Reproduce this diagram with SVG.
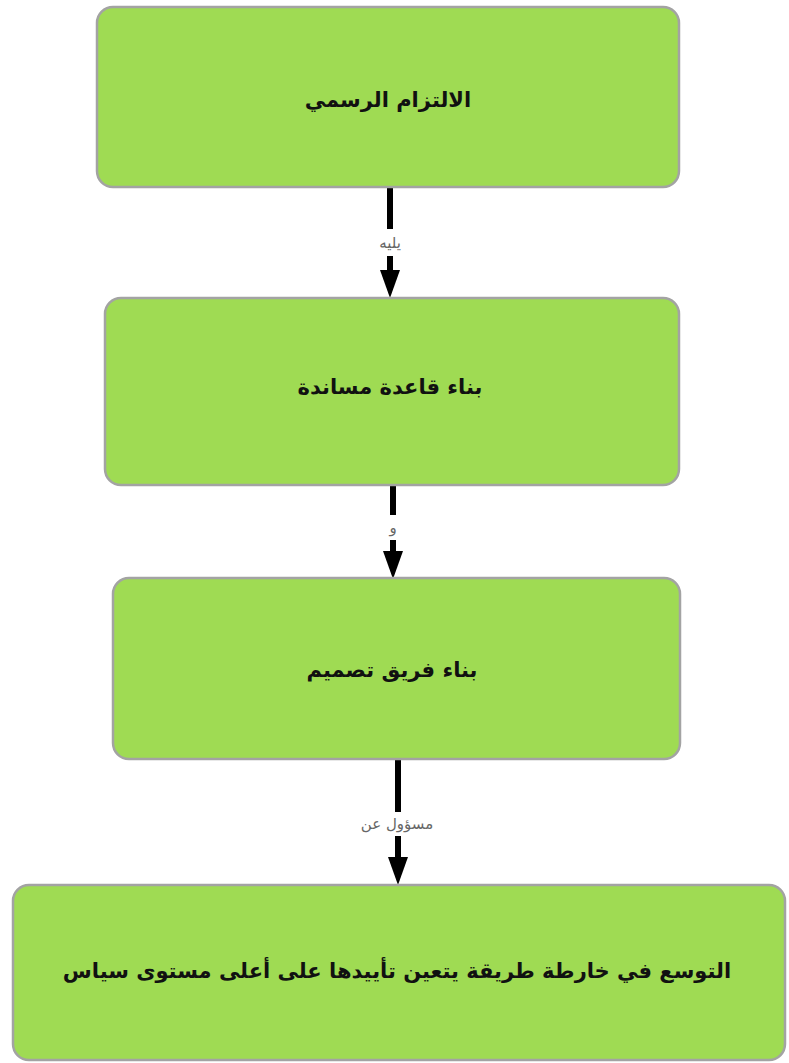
<svg xmlns="http://www.w3.org/2000/svg" width="789" height="1063" viewBox="0 0 789 1063">
<style>
.box{fill:#9fdb53;stroke:#a3a3a3;stroke-width:2.5}
.t{font-family:"DejaVu Sans","Liberation Sans",sans-serif;font-weight:bold;font-size:21px;fill:#111;text-anchor:middle;direction:rtl}
.edge{stroke:#000;stroke-width:6;fill:none}
.lbl{font-family:"DejaVu Sans","Liberation Sans",sans-serif;font-size:15px;fill:#666;text-anchor:middle;direction:rtl}
</style>
<rect width="789" height="1063" fill="#fff"/>
<g id="connectors">
<g id="e1">
<line class="edge" x1="390" y1="188" x2="390" y2="229"/>
<line class="edge" x1="390" y1="256" x2="390" y2="274"/>
<path d="M380,270 L400,270 L390,298 Z" fill="#000"/>
<text class="lbl" x="390" y="248">يليه</text>
</g>
<g id="e2">
<line class="edge" x1="393" y1="486" x2="393" y2="515"/>
<line class="edge" x1="393" y1="540" x2="393" y2="556"/>
<path d="M383,551 L403,551 L393,579 Z" fill="#000"/>
<text class="lbl" x="393" y="533">و</text>
</g>
<g id="e3">
<line class="edge" x1="398" y1="759" x2="398" y2="812"/>
<line class="edge" x1="398" y1="836" x2="398" y2="862"/>
<path d="M388,857 L408,857 L398,885 Z" fill="#000"/>
<text class="lbl" x="397" y="829">مسؤول عن</text>
</g>
</g>
<g id="n1">
<rect class="box" x="97" y="7" width="582" height="180" rx="16"/>
<text class="t" x="388" y="107">الالتزام الرسمي</text>
</g>
<g id="n2">
<rect class="box" x="105" y="298" width="574" height="187" rx="16"/>
<text class="t" x="390" y="394">بناء قاعدة مساندة</text>
</g>
<g id="n3">
<rect class="box" x="113" y="578" width="567" height="181" rx="16"/>
<text class="t" x="392" y="677">بناء فريق تصميم</text>
</g>
<g id="n4">
<rect class="box" x="13" y="885" width="772" height="175" rx="16"/>
<text class="t" x="397" y="978">التوسع في خارطة طريقة يتعين تأييدها على أعلى مستوى سياس</text>
</g>
</svg>
